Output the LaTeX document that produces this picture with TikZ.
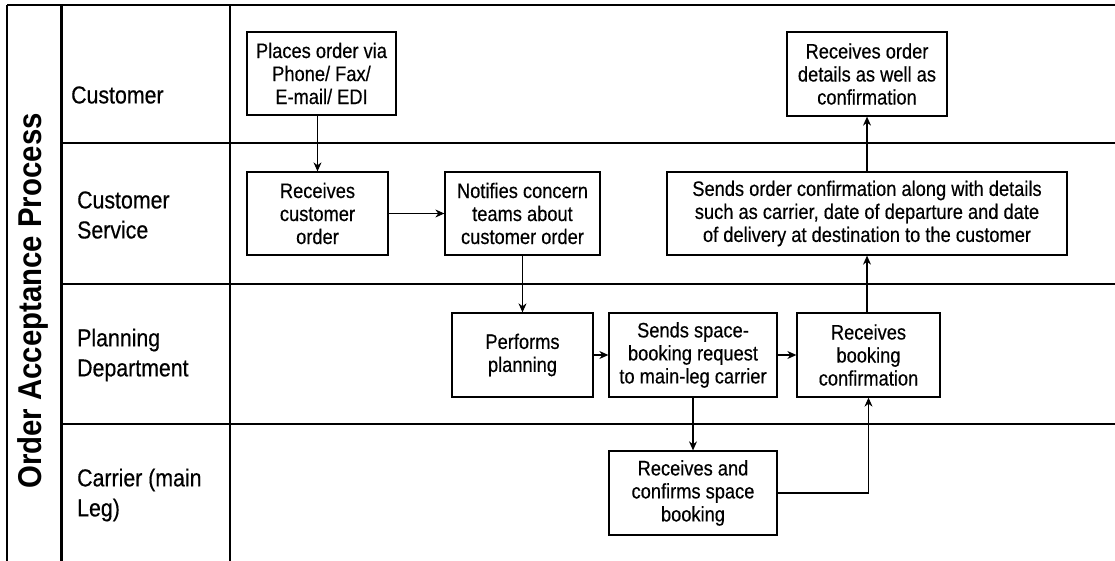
\documentclass[tikz,border=0pt]{standalone}
\usepackage{fontspec}
\setmainfont{Liberation Sans}
\newfontfamily\condfont[FakeStretch=0.87,FakeBold=0.4]{Liberation Sans}
\newfontfamily\titlefont[FakeStretch=0.89]{Liberation Sans}
\usetikzlibrary{arrows.meta}
\begin{document}
\begin{tikzpicture}[x=1pt,y=-1pt,
  lane/.style={line width=2pt},
  stepbox/.style={draw,line width=1.3pt,inner sep=0pt,align=center,
    font=\condfont\fontsize{21}{23}\selectfont},
  lanelabel/.style={anchor=west,align=left,inner sep=0pt,
    font=\condfont\fontsize{24.5}{30}\selectfont},
  flow/.style={line width=1.1pt,-{Stealth[length=9pt,width=8pt]}},
  flowline/.style={line width=1.1pt}]
\useasboundingbox (0,0) rectangle (1115,561);
% swimlane frame
\draw[lane] (7,5) -- (1115,5);
\draw[lane] (7,5) -- (7,561);
\draw[line width=3pt] (61,5) -- (61,561);
\draw[lane] (230,5) -- (230,561);
\draw[lane] (61,143) -- (1115,143);
\draw[lane] (61,284) -- (1115,284);
\draw[lane] (61,424) -- (1115,424);
% title
\node[rotate=90,inner sep=0pt,font=\titlefont\fontsize{33}{36}\selectfont\bfseries] (title) at (33,301) {Order Acceptance Process};
% lane labels
\node[lanelabel] (l1) at (71,95) {Customer};
\node[lanelabel] (l2) at (77,215) {Customer\\Service};
\node[lanelabel] (l3) at (77,355) {Planning\\Department};
\node[lanelabel] (l4) at (77,495) {Carrier (main\\Leg)};
% boxes
\node[stepbox,minimum width=149pt,minimum height=83pt] (place) at (321.5,73.5) {Places order via\\Phone/ Fax/\\E-mail/ EDI};
\node[stepbox,minimum width=141pt,minimum height=83pt] (recv) at (317.5,213.5) {Receives\\customer\\order};
\node[stepbox,minimum width=155pt,minimum height=83pt] (notify) at (522.5,213.5) {Notifies concern\\teams about\\customer order};
\node[stepbox,minimum width=400pt,minimum height=83pt] (sendconf) at (867,213.5) {Sends order confirmation along with details\\such as carrier, date of departure and date\\of delivery at destination to the customer};
\node[stepbox,minimum width=160pt,minimum height=84pt] (recvdet) at (867,74) {Receives order\\details as well as\\confirmation};
\node[stepbox,minimum width=141pt,minimum height=84pt] (plan) at (522.5,355) {Performs\\planning};
\node[stepbox,minimum width=168pt,minimum height=84pt] (spacereq) at (693,355) {Sends space-\\booking request\\to main-leg carrier};
\node[stepbox,minimum width=143pt,minimum height=84pt] (bookconf) at (868.5,355) {Receives\\booking\\confirmation};
\node[stepbox,minimum width=168pt,minimum height=84pt] (carrier) at (693,493) {Receives and\\confirms space\\booking};
\coordinate (cturn) at (bookconf.south |- carrier.east);
% connectors
\draw[flow] (recv.north |- place.south) -- (recv.north);
\draw[flow] (recv) -- (notify);
\draw[flow] (notify) -- (plan);
\draw[flow] (plan) -- (spacereq);
\draw[flow] (spacereq) -- (bookconf);
\draw[flow] (spacereq) -- (carrier);
\draw[flowline] (carrier.east) -- (cturn);
\draw[flow] (cturn) -- (bookconf.south);
\draw[flow] (bookconf.north -| sendconf.south) -- (sendconf.south);
\draw[flow] (sendconf) -- (recvdet);
\end{tikzpicture}
\end{document}
